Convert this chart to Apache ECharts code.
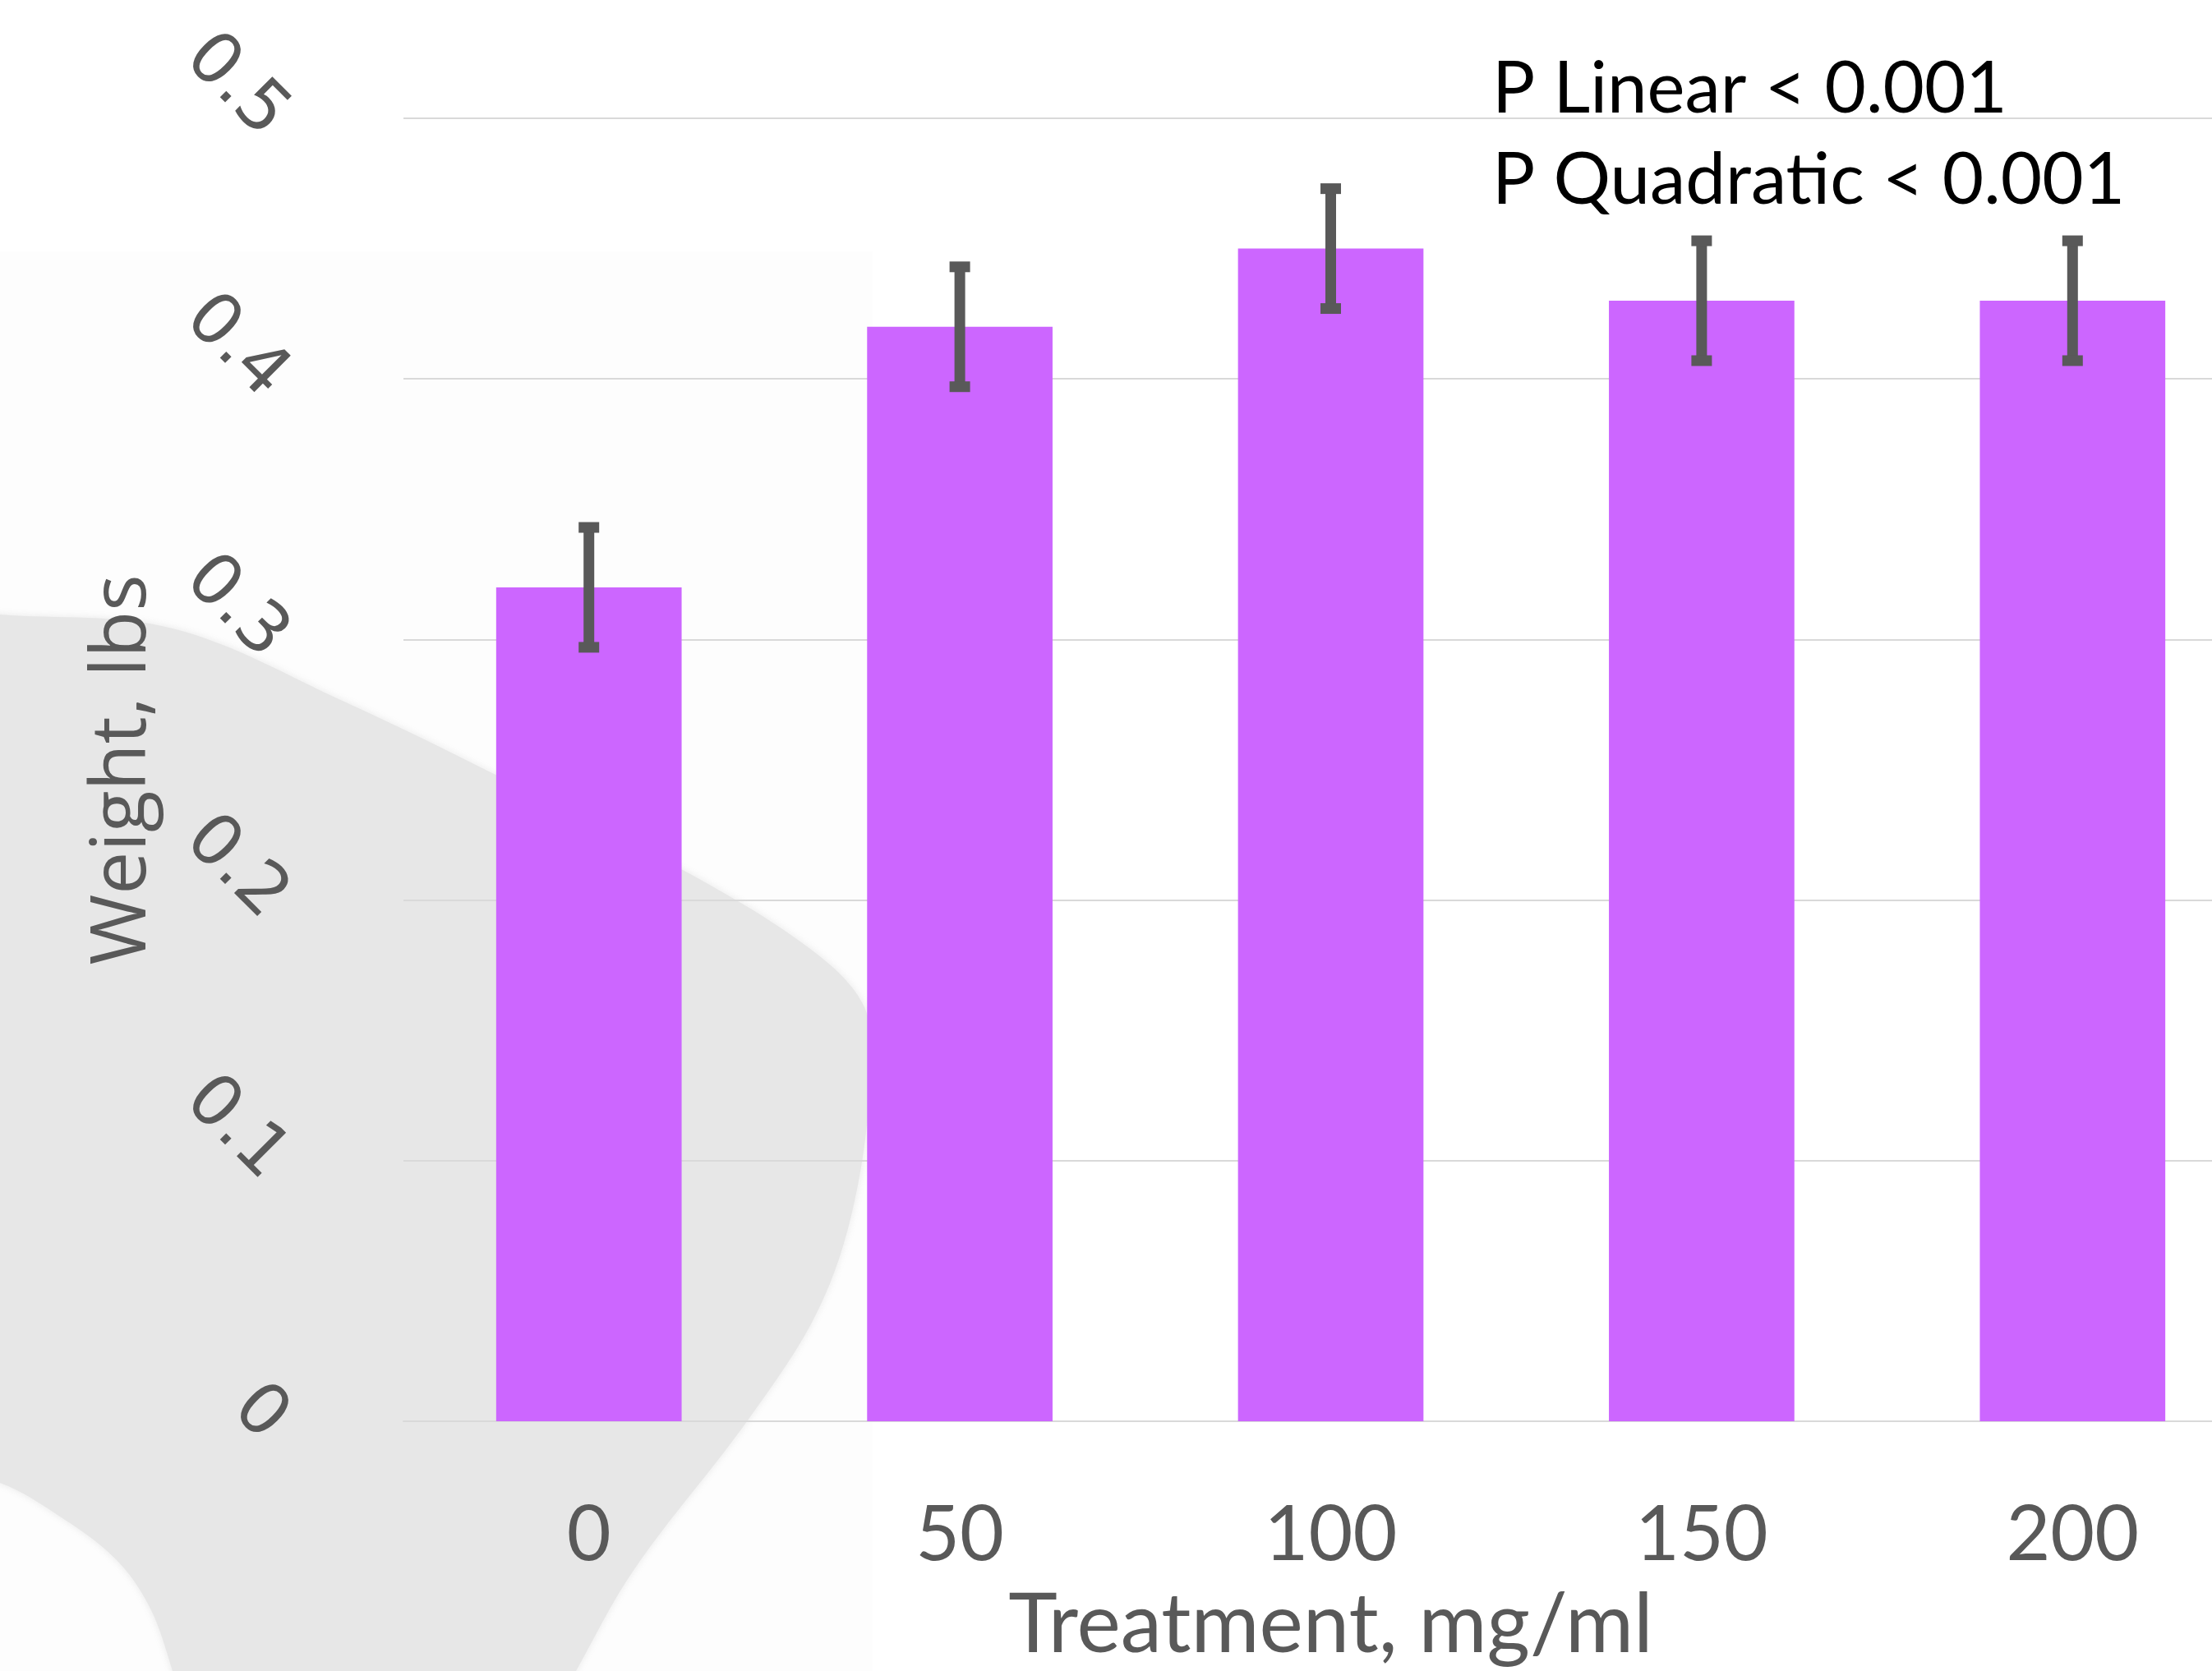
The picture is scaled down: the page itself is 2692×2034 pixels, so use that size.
<!DOCTYPE html>
<html>
<head>
<meta charset="utf-8">
<script src="https://cdn.jsdelivr.net/npm/echarts@6/dist/echarts.min.js"></script>
<style>
html,body{margin:0;padding:0;background:#ffffff;overflow:hidden;}
#chart{width:2800px;height:2034px;}
</style>
</head>
<body>
<div id="chart"></div>
<script>
const categories = ['0', '50', '100', '150', '200'];
const weights = [0.32, 0.42, 0.45, 0.43, 0.43];
const errors = [0.023, 0.023, 0.023, 0.023, 0.023];
const yTicks = ['0', '0.1', '0.2', '0.3', '0.4', '0.5'];
const annotations = ['P Linear < 0.001', 'P Quadratic < 0.001'];
const xTitle = 'Treatment, mg/ml';
const yTitle = 'Weight, lbs';

const chart = echarts.init(document.getElementById('chart'));

const blobPoints = [
  [-80, 742], [0, 748], [210, 765], [421, 855], [605, 944], [831, 1059],
  [982, 1152], [1050, 1222], [1060, 1300], [1040, 1462], [996, 1594],
  [912, 1726], [772, 1910], [701, 2034], [660, 2110], [230, 2110],
  [210, 2034], [182, 1956], [140, 1897], [70, 1844], [0, 1805], [-80, 1790]
];

const option = {
  backgroundColor: '#ffffff',
  animation: false,
  graphic: [
    { type: 'rect', z: -20, silent: true,
      shape: { x: 0, y: 306, width: 1062, height: 1728 },
      style: { fill: '#FDFDFD' } },
    { type: 'polygon', z: -10, silent: true,
      shape: { points: blobPoints, smooth: 0.35 },
      style: { fill: '#E7E7E7', shadowBlur: 8, shadowColor: 'rgba(231,231,231,0.9)' } },
    { type: 'text', z: 10, left: 1816, top: 65,
      style: { text: annotations[0], fontFamily: 'Lato', fontSize: 87, fill: '#000000' } },
    { type: 'text', z: 10, left: 1816, top: 176,
      style: { text: annotations[1], fontFamily: 'Lato', fontSize: 87, fill: '#000000' } }
  ],
  grid: { left: 491, top: 144, width: 2257, height: 1590, containLabel: false },
  xAxis: {
    type: 'category',
    data: categories,
    boundaryGap: true,
    axisLine: { show: true, lineStyle: { color: '#D9D9D9', width: 2 } },
    axisTick: { show: false },
    axisLabel: { color: '#595959', fontFamily: 'Lato', fontSize: 93, margin: 92 },
    name: xTitle,
    nameLocation: 'middle',
    nameGap: 198,
    nameTextStyle: { color: '#595959', fontFamily: 'Lato', fontSize: 101 }
  },
  yAxis: {
    type: 'value',
    min: 0, max: 0.5, interval: 0.1,
    axisLine: { show: false },
    axisTick: { show: false },
    splitLine: { show: true, lineStyle: { color: '#D9D9D9', width: 2 } },
    axisLabel: {
      color: '#595959', fontFamily: 'DejaVu Sans', fontSize: 86, rotate: -45, margin: 146,
      formatter: function (v) { return '{t|' + yTicks[Math.round(v / 0.1)] + '}'; },
      rich: {
        t: { color: '#595959', fontFamily: 'DejaVu Sans', fontSize: 86, padding: [28, 0, 0, 0] }
      }
    },
    name: yTitle,
    nameLocation: 'middle',
    nameGap: 294,
    nameRotate: 90,
    nameTextStyle: { color: '#595959', fontFamily: 'Open Sans', fontSize: 93 }
  },
  series: [
    {
      type: 'bar',
      data: weights,
      barWidth: '50%',
      itemStyle: { color: '#CC66FF' },
      z: 2
    },
    {
      type: 'custom',
      z: 5,
      data: weights.map(function (w, i) { return [i, w, errors[i]]; }),
      renderItem: function (params, api) {
        const i = api.value(0), v = api.value(1), e = api.value(2);
        const top = api.coord([i, v + e]);
        const bot = api.coord([i, v - e]);
        const x = top[0];
        const style = { stroke: '#595959', lineWidth: 13, lineCap: 'butt' };
        return {
          type: 'group',
          children: [
            { type: 'line', shape: { x1: x, y1: top[1], x2: x, y2: bot[1] }, style: style },
            { type: 'line', shape: { x1: x - 12.5, y1: top[1], x2: x + 12.5, y2: top[1] }, style: style },
            { type: 'line', shape: { x1: x - 12.5, y1: bot[1], x2: x + 12.5, y2: bot[1] }, style: style }
          ]
        };
      }
    }
  ]
};
chart.setOption(option);
</script>
</body>
</html>
